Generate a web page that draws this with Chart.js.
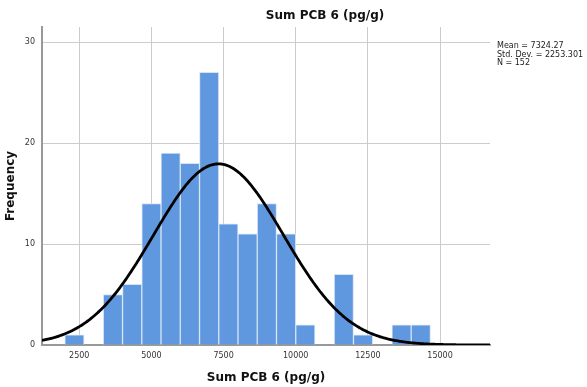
<!DOCTYPE html>
<html>
<head>
<meta charset="utf-8">
<script src="https://cdn.jsdelivr.net/npm/chart.js@4.4.1/dist/chart.umd.min.js"></script>
<style>
  html, body { margin: 0; padding: 0; background: #fff; }
  #wrap { width: 587px; height: 387px; }
</style>
</head>
<body>
<div id="wrap"><canvas id="hist"></canvas></div>
<script>
// histogram bins (width 666.67, starting at 2000)
const binStarts = [2000, 2666.67, 3333.33, 4000, 4666.67, 5333.33, 6000, 6666.67, 7333.33,
                   8000, 8666.67, 9333.33, 10000, 10666.67, 11333.33, 12000, 12666.67, 13333.33, 14000];
const binWidth = 666.67;
const counts = [1, 0, 5, 6, 14, 19, 18, 27, 12, 11, 14, 11, 2, 0, 7, 1, 0, 2, 2];
const xTicks = [2500, 5000, 7500, 10000, 12500, 15000];
const yTicks = [0, 10, 20, 30];
const stats = { mean: 7324.27, sd: 2253.301, n: 152 };
const statLines = ['Mean = 7324.27', 'Std. Dev. = 2253.301', 'N = 152'];
const xMin = 1210, xMax = 16730;

// normal curve from the stated mean / sd, scaled to counts
const curve = [];
for (let x = xMin; x <= xMax; x += 40) {
    const z = (x - stats.mean) / stats.sd;
    curve.push({ x: x, y: stats.n * binWidth * Math.exp(-0.5 * z * z) / (stats.sd * Math.sqrt(2 * Math.PI)) });
}

const barData = counts.map((c, i) => ({ x: binStarts[i] + binWidth / 2, y: c }));

// titles and the stats box
const textPlugin = {
    id: 'texts',
    afterDraw(chart) {
        const ctx = chart.ctx;
        ctx.save();
        ctx.fillStyle = '#111';
        ctx.font = 'bold 12px "DejaVu Sans"';
        ctx.textAlign = 'center';
        ctx.textBaseline = 'middle';
        ctx.fillText('Sum PCB 6 (pg/g)', 325, 16);
        ctx.font = '8px "DejaVu Sans"';
        ctx.textAlign = 'left';
        ctx.fillStyle = '#222';
        statLines.forEach((s, i) => ctx.fillText(s, 497, 46 + i * 8.6));
        ctx.restore();
    }
};

new Chart(document.getElementById('hist'), {
    data: {
        datasets: [{
            type: 'line',
            data: curve,
            borderColor: '#000',
            borderWidth: 2.8,
            pointRadius: 0,
            fill: false,
            order: 0
        }, {
            type: 'bar',
            data: barData,
            backgroundColor: '#5f98de',
            borderColor: '#d5e3f6',
            borderWidth: 1,
            barPercentage: 1,
            categoryPercentage: 1,
            order: 1
        }]
    },
    options: {
        responsive: true,
        maintainAspectRatio: false,
        animation: false,
        layout: { padding: { left: 0, right: 97, top: 27, bottom: 0 } },
        plugins: { legend: { display: false }, tooltip: { enabled: false } },
        scales: {
            x: {
                type: 'linear',
                offset: false,
                min: xMin,
                max: xMax,
                afterBuildTicks: s => { s.ticks = xTicks.map(v => ({ value: v })); },
                afterFit: s => { s.height = 42; },
                grid: { color: '#cccccc', drawTicks: false, lineWidth: 1, offset: false },
                border: { color: '#999', width: 2 },
                ticks: { color: '#333', font: { family: 'DejaVu Sans', size: 8 }, padding: 6, maxRotation: 0,
                         callback: v => String(v) },
                title: { display: true, text: 'Sum PCB 6 (pg/g)', color: '#111',
                         font: { family: 'DejaVu Sans', size: 12, weight: 'bold' }, padding: { top: 6, bottom: 2 } }
            },
            y: {
                min: 0,
                max: 31.5,
                afterBuildTicks: s => { s.ticks = yTicks.map(v => ({ value: v })); },
                afterFit: s => { s.width = 42; },
                grid: { color: '#cccccc', drawTicks: false, lineWidth: 1 },
                border: { color: '#999', width: 2 },
                ticks: { color: '#333', font: { family: 'DejaVu Sans', size: 8 }, padding: 7 },
                title: { display: true, text: 'Frequency', color: '#111',
                         font: { family: 'DejaVu Sans', size: 12, weight: 'bold' }, padding: { top: 4, bottom: 0 } }
            }
        }
    },
    plugins: [textPlugin]
});
</script>
</body>
</html>
